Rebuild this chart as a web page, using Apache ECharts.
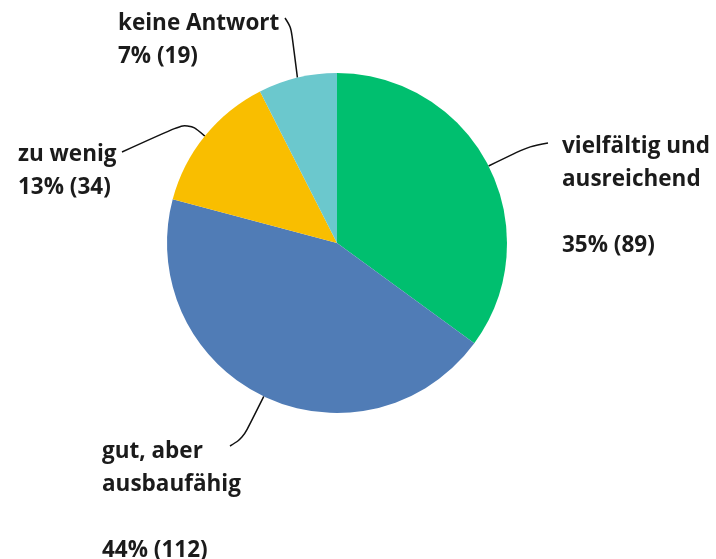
<!DOCTYPE html>
<html>
<head>
<meta charset="utf-8">
<script src="https://cdn.jsdelivr.net/npm/echarts@6/dist/echarts.min.js"></script>
<style>
  html, body { margin: 0; padding: 0; background: #fff; }
  #chart { width: 716px; height: 559px; }
</style>
</head>
<body>
<div id="chart"></div>
<script>
// Daten
var categories = ['vielfältig und ausreichend', 'gut, aber ausbaufähig', 'zu wenig', 'keine Antwort'];
var counts = [89, 112, 34, 19];
var percents = [35, 44, 13, 7];
var colors = ['#00bf6f', '#507cb6', '#f9be00', '#6bc8cd'];

// Beschriftungen: Zeilenumbruch wie im Original
var labelLines = [
  'vielfältig und\nausreichend\n\n',
  'gut, aber\nausbaufähig\n\n',
  'zu wenig\n',
  'keine Antwort\n'
];
// linke obere Ecke der Beschriftungen
var labelPos = [[562, 130], [102, 435], [18, 138], [118, 7]];
// Endpunkt und Knick der Führungslinie, relativ zur Beschriftung
var lineEnd = [[-14, 13], [128, 11], [104, 14], [167, 11]];
var lineBend = [[-32, 16], [141, 3], [170, -16], [173, 20]];

var myChart = echarts.init(document.getElementById('chart'));

myChart.setOption({
  animation: false,
  color: colors,
  series: [
    {
      type: 'pie',
      center: [337, 243],
      radius: 170,
      startAngle: 90,
      clockwise: true,
      data: categories.map(function (name, i) {
        return { name: name, value: counts[i] };
      }),
      label: {
        show: true,
        position: 'outside',
        formatter: function (p) {
          return labelLines[p.dataIndex] + percents[p.dataIndex] + '% (' + p.value + ')';
        },
        fontFamily: '"Open Sans", sans-serif',
        fontWeight: 'bold',
        fontSize: 22.5,
        lineHeight: 33,
        color: '#1b1b1b',
        align: 'left'
      },
      labelLine: {
        show: true,
        smooth: 0.35,
        lineStyle: { color: '#111', width: 1.5 }
      },
      labelLayout: function (params) {
        var i = params.dataIndex;
        var pos = labelPos[i];
        var start = params.labelLinePoints[0];
        return {
          x: pos[0],
          y: pos[1],
          align: 'left',
          verticalAlign: 'top',
          labelLinePoints: [
            start,
            [pos[0] + lineBend[i][0], pos[1] + lineBend[i][1]],
            [pos[0] + lineEnd[i][0], pos[1] + lineEnd[i][1]]
          ]
        };
      },
      itemStyle: { borderWidth: 0 },
      emphasis: { disabled: true }
    }
  ]
});
</script>
</body>
</html>
